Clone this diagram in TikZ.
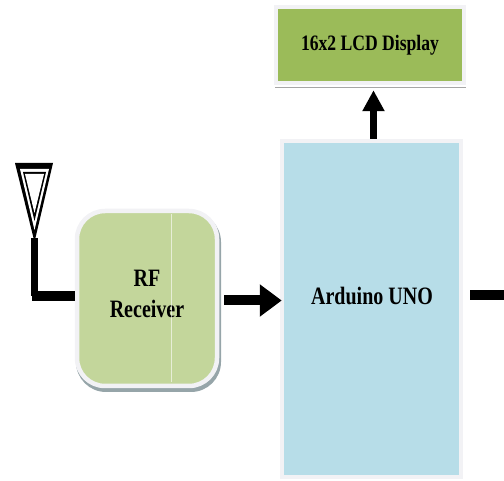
\documentclass[tikz,border=0pt]{standalone}
\usepackage{fontspec}
\usepackage{tikz}
\usetikzlibrary{arrows.meta}
\setmainfont[FakeStretch=0.8]{Liberation Serif}

\definecolor{lcdgreen}{HTML}{9BBB59}
\definecolor{rfgreen}{HTML}{C3D69B}
\definecolor{unoblue}{HTML}{B7DDE8}
\definecolor{halo}{HTML}{F2F2F5}

\tikzset{
    blockbox/.style={draw=halo, line width=4.5pt, align=center, inner sep=0pt, font=\bfseries\fontsize{22}{31}\selectfont},
    biglabel/.style={align=center, font=\bfseries\fontsize{25}{31}\selectfont},
    fatarrow/.style={line width=10pt, draw=black, -{Triangle[length=22pt, width=31pt]}},
}

\begin{document}
\begin{tikzpicture}[x=1pt, y=-1pt]
    \useasboundingbox (0,0) rectangle (504,481);

    % shadow under the receiver
    \fill[rounded corners=30pt, fill=gray!60!unoblue] (76,212) rectangle (221,392);

    \node[blockbox, fill=lcdgreen, minimum width=188pt, minimum height=76pt] (lcd) at (370,45) {16x2 LCD Display};
    \node[blockbox, fill=unoblue, minimum width=179pt, minimum height=336pt] (uno) at (371.5,309) {};
    \node[blockbox, fill=rfgreen, rounded corners=28pt, minimum width=140pt, minimum height=175pt] (rf) at (147,298.5) {};
    \node[biglabel] (rflabel) at (147,293.5) {RF\\Receiver};
    \node[biglabel] (unolabel) at (372,296) {Arduino UNO};

    % thin line through the receiver and under the display
    \draw[white, opacity=0.6] (171,214) -- (171,382);
    \draw[gray!70, line width=1pt] (275,88) -- (466,88);

    % antenna
    \fill (15,163) -- (53,163) -- (34.5,242) -- cycle;
    \fill[white] (20,169) -- (49,169) -- (34.5,230) -- cycle;
    \fill (23,172) -- (46,172) -- (34.5,221) -- cycle;
    \fill[white] (25,174) -- (44,174) -- (34.5,213) -- cycle;
    \coordinate (anttip) at (34.5,238);

    \coordinate (rfin) at ([yshift=2pt]rf.west);
    \coordinate (rfout) at ([yshift=-2pt]rf.east);
    \coordinate (outend) at (504,295);

    \draw[line width=7pt] (anttip) -- (anttip |- rfin);
    \draw[line width=10pt, shorten <=-3pt] (anttip |- rfin) -- (rfin);
    \draw[fatarrow, shorten <=5pt, shorten >=-2pt] (rfout) -- (rfout -| uno.west);
    \draw[fatarrow, line width=7pt, -{Triangle[length=21pt, width=21pt]}, shorten >=5pt] ([xshift=2pt]uno.north) -- ([xshift=2pt]uno.north |- lcd.south);
    \draw[line width=10pt, shorten <=7pt] (uno.east |- outend) -- (outend);
\end{tikzpicture}
\end{document}
